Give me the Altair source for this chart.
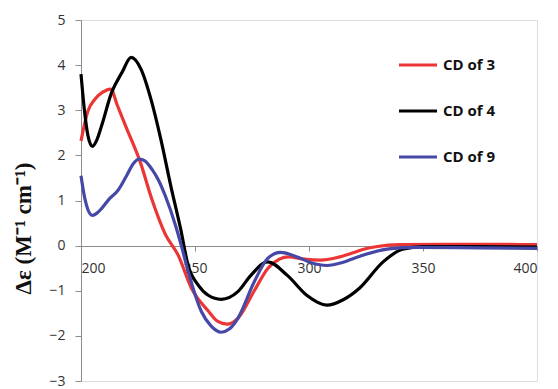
import altair as alt
import pandas as pd

# CD of 3 (red)
nm3 = [200, 203, 206, 209.5, 213, 216, 220, 226, 231, 237, 242.5, 248.5, 256, 260, 264, 269,
       276, 282, 287, 291, 298, 305, 312, 318, 324, 330, 340, 360, 380, 400]
cd3 = [2.32, 2.98, 3.24, 3.40, 3.47, 3.10, 2.60, 1.85, 1.04, 0.25, -0.20, -0.95, -1.46, -1.68, -1.74, -1.60,
       -1.00, -0.50, -0.30, -0.25, -0.30, -0.32, -0.27, -0.18, -0.08, -0.02, 0.02, 0.03, 0.03, 0.02]

# CD of 4 (black)
nm4 = [200, 201.5, 203, 205, 207, 209, 213.4, 218, 222, 226.4, 230.7, 235, 239.4, 243.7, 247, 251.5,
       255.8, 261.5, 268.8, 274.5, 281.8, 290.5, 299, 307.8, 315, 322, 332.5, 341, 350, 375, 400]
cd4 = [3.80, 3.00, 2.45, 2.20, 2.35, 2.65, 3.39, 3.84, 4.17, 3.90, 3.24, 2.36, 1.32, 0.37, -0.44, -0.88,
       -1.10, -1.19, -1.02, -0.66, -0.36, -0.66, -1.10, -1.32, -1.20, -0.95, -0.36, -0.08, -0.02, -0.02, -0.03]

# CD of 9 (blue)
nm9 = [200, 201.7, 203, 205, 207, 209, 212.5, 216, 220, 223, 225.5, 228, 231, 234, 237, 241.5, 244,
       247, 252.8, 257, 261.5, 265, 268.8, 276, 281.8, 287.5, 294.8, 301, 307.8, 315, 322, 335, 347, 375, 400]
cd9 = [1.55, 1.04, 0.80, 0.67, 0.72, 0.82, 1.04, 1.21, 1.55, 1.82, 1.92, 1.88, 1.70, 1.45, 1.10, 0.44, 0.00,
       -0.57, -1.46, -1.78, -1.92, -1.85, -1.61, -0.80, -0.29, -0.15, -0.25, -0.38, -0.44, -0.37, -0.24, -0.07, -0.04, -0.05, -0.06]

series = ["CD of 3", "CD of 4", "CD of 9"]
colors = ["#ec3535", "#000000", "#4548a6"]

rows = []
for name, xs, ys in zip(series, [nm3, nm4, nm9], [cd3, cd4, cd9]):
    for i, (a, b) in enumerate(zip(xs, ys)):
        rows.append({"series": name, "nm": a, "de": b, "order": i})
df = pd.DataFrame(rows)

chart = alt.Chart(df).mark_line(strokeWidth=3.2, interpolate="monotone").encode(
    x=alt.X("nm:Q", scale=alt.Scale(domain=[200, 400], nice=False, zero=False),
            axis=alt.Axis(values=[200, 250, 300, 350, 400], title=None, grid=False, offset=-135,
                          domainColor="#8c8c8c", tickColor="#8c8c8c", tickSize=5, labelPadding=10,
                          labelFont="Open Sans", labelFontSize=14, labelColor="#333333",
                          domainWidth=1)),
    y=alt.Y("de:Q", scale=alt.Scale(domain=[-3, 5], nice=False),
            axis=alt.Axis(values=[-3, -2, -1, 0, 1, 2, 3, 4, 5], title="Δε (M⁻¹ cm⁻¹)", grid=False,
                          domainColor="#8c8c8c", tickColor="#8c8c8c", tickSize=6, labelPadding=10,
                          labelFont="Open Sans", labelFontSize=14, labelColor="#333333",
                          titleFont="Liberation Serif", titleFontSize=23, titleFontWeight="bold",
                          titleColor="#111111", titleX=-58, titleY=208, titleAngle=-90,
                          titleBaseline="middle", titleAlign="center")),
    color=alt.Color("series:N", scale=alt.Scale(domain=series, range=colors),
                    legend=alt.Legend(title=None, orient="none", legendX=316, legendY=24,
                                      symbolType="stroke", symbolSize=1444, symbolStrokeWidth=3.2,
                                      rowPadding=17, labelOffset=4,
                                      labelFont="Open Sans", labelFontSize=15, labelFontWeight="bold",
                                      labelColor="#111111")),
    order="order:Q",
).properties(
    width=456, height=361,
    autosize=alt.AutoSizeParams(type="none"),
    padding={"left": 73, "top": 12, "right": 13, "bottom": 8},
).configure_view(stroke=None).configure(background="white")

chart.save("out.html", embed_options={"renderer": "svg", "actions": False})
